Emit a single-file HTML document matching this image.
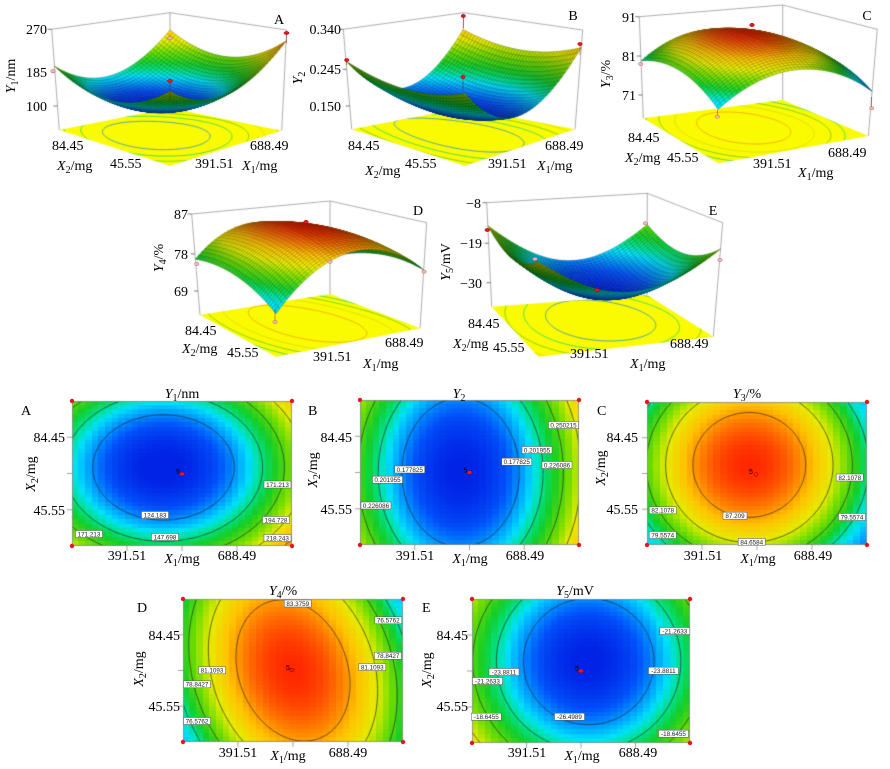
<!DOCTYPE html>
<html><head><meta charset="utf-8">
<style>
html,body{margin:0;padding:0;background:#fff;}
#wrap{position:relative;width:890px;height:769px;overflow:hidden;background:#fff;}
canvas,svg{position:absolute;left:0;top:0;}
svg text{font-family:"Liberation Serif",serif;font-size:14px;fill:#000;}
svg text.lb{font-family:"Liberation Sans",sans-serif;font-size:6.3px;fill:#222;}
svg text.cn{font-family:"Liberation Sans",sans-serif;font-size:7px;fill:#000;}
</style></head><body>
<div id="wrap">
<canvas id="c" width="890" height="769"></canvas>
<svg width="890" height="769" viewBox="0 0 890 769">
<!-- ===== 3D A ===== -->
<text x="47" y="34" text-anchor="end">270</text>
<text x="47" y="77" text-anchor="end">185</text>
<text x="47" y="111" text-anchor="end">100</text>
<text transform="translate(15,76) rotate(-90)" text-anchor="middle"><tspan font-style="italic">Y</tspan><tspan font-size="10" dy="3">1</tspan><tspan dy="-3">/nm</tspan></text>
<text x="279" y="24" text-anchor="middle">A</text>
<text x="52" y="150">84.45</text>
<text x="110" y="168">45.55</text>
<text x="57" y="170"><tspan font-style="italic">X</tspan><tspan font-size="10" dy="3">2</tspan><tspan dy="-3">/mg</tspan></text>
<text x="195" y="168">391.51</text>
<text x="250" y="150">688.49</text>
<text x="242" y="170"><tspan font-style="italic">X</tspan><tspan font-size="10" dy="3">1</tspan><tspan dy="-3">/mg</tspan></text>
<!-- ===== 3D B ===== -->
<text x="341" y="34" text-anchor="end">0.340</text>
<text x="341" y="74" text-anchor="end">0.245</text>
<text x="341" y="111" text-anchor="end">0.150</text>
<text transform="translate(302,78) rotate(-90)" text-anchor="middle"><tspan font-style="italic">Y</tspan><tspan font-size="10" dy="3">2</tspan></text>
<text x="573" y="20" text-anchor="middle">B</text>
<text x="348" y="150">84.45</text>
<text x="405" y="168">45.55</text>
<text x="365" y="175"><tspan font-style="italic">X</tspan><tspan font-size="10" dy="3">2</tspan><tspan dy="-3">/mg</tspan></text>
<text x="488" y="168">391.51</text>
<text x="545" y="150">688.49</text>
<text x="537" y="170"><tspan font-style="italic">X</tspan><tspan font-size="10" dy="3">1</tspan><tspan dy="-3">/mg</tspan></text>
<!-- ===== 3D C ===== -->
<text x="636" y="22" text-anchor="end">91</text>
<text x="636" y="61" text-anchor="end">81</text>
<text x="636" y="100" text-anchor="end">71</text>
<text transform="translate(610,74) rotate(-90)" text-anchor="middle"><tspan font-style="italic">Y</tspan><tspan font-size="10" dy="3">3</tspan><tspan dy="-3">/%</tspan></text>
<text x="867" y="20" text-anchor="middle">C</text>
<text x="628" y="142">84.45</text>
<text x="625" y="162"><tspan font-style="italic">X</tspan><tspan font-size="10" dy="3">2</tspan><tspan dy="-3">/mg</tspan></text>
<text x="667" y="162">45.55</text>
<text x="753" y="168">391.51</text>
<text x="828" y="157">688.49</text>
<text x="798" y="177"><tspan font-style="italic">X</tspan><tspan font-size="10" dy="3">1</tspan><tspan dy="-3">/mg</tspan></text>
<!-- ===== 3D D ===== -->
<text x="188" y="219" text-anchor="end">87</text>
<text x="188" y="259" text-anchor="end">78</text>
<text x="188" y="296" text-anchor="end">69</text>
<text transform="translate(163,258) rotate(-90)" text-anchor="middle"><tspan font-style="italic">Y</tspan><tspan font-size="10" dy="3">4</tspan><tspan dy="-3">/%</tspan></text>
<text x="418" y="215" text-anchor="middle">D</text>
<text x="185" y="335">84.45</text>
<text x="182" y="353"><tspan font-style="italic">X</tspan><tspan font-size="10" dy="3">2</tspan><tspan dy="-3">/mg</tspan></text>
<text x="227" y="357">45.55</text>
<text x="313" y="361">391.51</text>
<text x="385" y="347">688.49</text>
<text x="363" y="368"><tspan font-style="italic">X</tspan><tspan font-size="10" dy="3">1</tspan><tspan dy="-3">/mg</tspan></text>
<!-- ===== 3D E ===== -->
<text x="481" y="208" text-anchor="end">−8</text>
<text x="482" y="248" text-anchor="end">−19</text>
<text x="482" y="288" text-anchor="end">−30</text>
<text transform="translate(450,262) rotate(-90)" text-anchor="middle"><tspan font-style="italic">Y</tspan><tspan font-size="10" dy="3">5</tspan><tspan dy="-3">/mV</tspan></text>
<text x="713" y="215" text-anchor="middle">E</text>
<text x="468" y="328">84.45</text>
<text x="453" y="348"><tspan font-style="italic">X</tspan><tspan font-size="10" dy="3">2</tspan><tspan dy="-3">/mg</tspan></text>
<text x="493" y="352">45.55</text>
<text x="570" y="358">391.51</text>
<text x="670" y="348">688.49</text>
<text x="630" y="368"><tspan font-style="italic">X</tspan><tspan font-size="10" dy="3">1</tspan><tspan dy="-3">/mg</tspan></text>

<!-- 3D markers -->
<g stroke="#700" stroke-width="0.4">
<line x1="286.5" y1="33" x2="286.5" y2="43"/><line x1="170" y1="81" x2="170" y2="100"/>
<line x1="463.3" y1="16" x2="463.3" y2="28"/><line x1="463" y1="77" x2="463" y2="90"/><line x1="580" y1="44" x2="580" y2="55"/><line x1="346.7" y1="60" x2="346.7" y2="65"/>
<line x1="717.3" y1="110" x2="717.3" y2="116.7"/><line x1="871.7" y1="97" x2="871.7" y2="108.3"/>
<line x1="275" y1="310" x2="275" y2="322"/>
</g>
<g fill="#e8161a" stroke="#800" stroke-width="0.4">
<ellipse cx="286.5" cy="33" rx="2.6" ry="1.6"/><ellipse cx="170" cy="81" rx="2.6" ry="1.6"/>
<ellipse cx="463.3" cy="16" rx="2.2" ry="1.6"/><ellipse cx="463" cy="77" rx="2.2" ry="1.6"/><ellipse cx="580" cy="44" rx="2.2" ry="1.6"/><ellipse cx="346.7" cy="60" rx="2.2" ry="1.6"/>
<ellipse cx="752" cy="25" rx="2.4" ry="1.8"/>
<ellipse cx="306" cy="222" rx="2.4" ry="1.8"/>
<ellipse cx="487.3" cy="230" rx="2.4" ry="1.6"/><ellipse cx="597" cy="290" rx="2.4" ry="1.6"/>
</g>
<g fill="#f4b4b4" stroke="#a55" stroke-width="0.4">
<ellipse cx="53" cy="71" rx="2.2" ry="1.6"/><ellipse cx="170" cy="38" rx="2.2" ry="1.6"/>
<ellipse cx="640.7" cy="64" rx="2.2" ry="1.6"/><ellipse cx="717.3" cy="116.7" rx="2.2" ry="1.6"/><ellipse cx="871.7" cy="108.3" rx="2.2" ry="1.6"/>
<ellipse cx="196.7" cy="264" rx="2.2" ry="1.6"/><ellipse cx="330" cy="261.7" rx="2.2" ry="1.6"/><ellipse cx="424" cy="271.7" rx="2.2" ry="1.6"/><ellipse cx="275" cy="322" rx="2.2" ry="1.6"/>
<ellipse cx="535" cy="259" rx="2.2" ry="1.6"/><ellipse cx="645.3" cy="223.3" rx="2.2" ry="1.6"/><ellipse cx="720" cy="260" rx="2.2" ry="1.6"/>
</g>

<!-- ===== Contour A ===== -->
<text x="182" y="398" text-anchor="middle"><tspan font-style="italic">Y</tspan><tspan font-size="10" dy="3">1</tspan><tspan dy="-3">/nm</tspan></text>
<text x="21" y="415">A</text>
<text x="65" y="442" text-anchor="end">84.45</text>
<text x="65" y="515" text-anchor="end">45.55</text>
<text transform="translate(35,474) rotate(-90)" text-anchor="middle"><tspan font-style="italic">X</tspan><tspan font-size="10" dy="3">2</tspan><tspan dy="-3">/mg</tspan></text>
<text x="127" y="560" text-anchor="middle">391.51</text>
<text x="237" y="560" text-anchor="middle">688.49</text>
<text x="182" y="563" text-anchor="middle"><tspan font-style="italic">X</tspan><tspan font-size="10" dy="3">1</tspan><tspan dy="-3">/mg</tspan></text>
<!-- ===== Contour B ===== -->
<text x="459" y="398" text-anchor="middle"><tspan font-style="italic">Y</tspan><tspan font-size="10" dy="3">2</tspan></text>
<text x="308" y="415">B</text>
<text x="352" y="442" text-anchor="end">84.45</text>
<text x="352" y="514" text-anchor="end">45.55</text>
<text transform="translate(317,470) rotate(-90)" text-anchor="middle"><tspan font-style="italic">X</tspan><tspan font-size="10" dy="3">2</tspan><tspan dy="-3">/mg</tspan></text>
<text x="415" y="560" text-anchor="middle">391.51</text>
<text x="525" y="560" text-anchor="middle">688.49</text>
<text x="470" y="563" text-anchor="middle"><tspan font-style="italic">X</tspan><tspan font-size="10" dy="3">1</tspan><tspan dy="-3">/mg</tspan></text>
<!-- ===== Contour C ===== -->
<text x="747" y="398" text-anchor="middle"><tspan font-style="italic">Y</tspan><tspan font-size="10" dy="3">3</tspan><tspan dy="-3">/%</tspan></text>
<text x="597" y="415">C</text>
<text x="638" y="442" text-anchor="end">84.45</text>
<text x="638" y="514" text-anchor="end">45.55</text>
<text transform="translate(605,468) rotate(-90)" text-anchor="middle"><tspan font-style="italic">X</tspan><tspan font-size="10" dy="3">2</tspan><tspan dy="-3">/mg</tspan></text>
<text x="703" y="560" text-anchor="middle">391.51</text>
<text x="813" y="560" text-anchor="middle">688.49</text>
<text x="758" y="563" text-anchor="middle"><tspan font-style="italic">X</tspan><tspan font-size="10" dy="3">1</tspan><tspan dy="-3">/mg</tspan></text>
<!-- ===== Contour D ===== -->
<text x="283" y="595" text-anchor="middle"><tspan font-style="italic">Y</tspan><tspan font-size="10" dy="3">4</tspan><tspan dy="-3">/%</tspan></text>
<text x="137" y="612">D</text>
<text x="180" y="640" text-anchor="end">84.45</text>
<text x="180" y="711" text-anchor="end">45.55</text>
<text transform="translate(143,669) rotate(-90)" text-anchor="middle"><tspan font-style="italic">X</tspan><tspan font-size="10" dy="3">2</tspan><tspan dy="-3">/mg</tspan></text>
<text x="238" y="757" text-anchor="middle">391.51</text>
<text x="348" y="757" text-anchor="middle">688.49</text>
<text x="288" y="760" text-anchor="middle"><tspan font-style="italic">X</tspan><tspan font-size="10" dy="3">1</tspan><tspan dy="-3">/mg</tspan></text>
<!-- ===== Contour E ===== -->
<text x="575" y="595" text-anchor="middle"><tspan font-style="italic">Y</tspan><tspan font-size="10" dy="3">5</tspan><tspan dy="-3">/mV</tspan></text>
<text x="422" y="612">E</text>
<text x="468" y="640" text-anchor="end">84.45</text>
<text x="468" y="711" text-anchor="end">45.55</text>
<text transform="translate(431,670) rotate(-90)" text-anchor="middle"><tspan font-style="italic">X</tspan><tspan font-size="10" dy="3">2</tspan><tspan dy="-3">/mg</tspan></text>
<text x="527" y="757" text-anchor="middle">391.51</text>
<text x="638" y="757" text-anchor="middle">688.49</text>
<text x="582" y="760" text-anchor="middle"><tspan font-style="italic">X</tspan><tspan font-size="10" dy="3">1</tspan><tspan dy="-3">/mg</tspan></text>

<!-- contour labels -->
<g fill="#fff" stroke="#555" stroke-width="0.5">
<rect x="141.5" y="511.5" width="27" height="7"/><rect x="151.5" y="533.5" width="27" height="7"/><rect x="75.5" y="530.5" width="27" height="7"/><rect x="264" y="481" width="27" height="7"/><rect x="262.5" y="516.5" width="27" height="7"/><rect x="264" y="534.5" width="27" height="7"/>
<rect x="548.5" y="421.5" width="30" height="7"/><rect x="522" y="446.5" width="30" height="7"/><rect x="501.7" y="458.2" width="30" height="7"/><rect x="542" y="461.5" width="30" height="7"/><rect x="394.7" y="466" width="30" height="7"/><rect x="372.5" y="476.2" width="30" height="7"/><rect x="361" y="502" width="30" height="7"/>
<rect x="836.2" y="474" width="27" height="7"/><rect x="838.5" y="513.5" width="27" height="7"/><rect x="723" y="512.2" width="24" height="7"/><rect x="738.2" y="538.5" width="27" height="7"/><rect x="649.2" y="506.8" width="27" height="7"/><rect x="649.2" y="531.5" width="27" height="7"/>
<rect x="284.3" y="600" width="27" height="7"/><rect x="374.8" y="616.8" width="27" height="7"/><rect x="374.5" y="652.3" width="27" height="7"/><rect x="358.8" y="663.5" width="27" height="7"/><rect x="198.5" y="666.8" width="27" height="7"/><rect x="183.5" y="680.8" width="27" height="7"/><rect x="183.5" y="717.5" width="27" height="7"/>
<rect x="659.8" y="627.5" width="30" height="7"/><rect x="648.5" y="667.2" width="30" height="7"/><rect x="489" y="668.5" width="30" height="7"/><rect x="472.5" y="677.5" width="30" height="7"/><rect x="554.5" y="713.2" width="30" height="7"/><rect x="471.3" y="713.2" width="30" height="7"/><rect x="658.5" y="730.2" width="30" height="7"/>
</g>
<g text-anchor="middle">
<text class="lb" x="155" y="517.3">124.183</text><text class="lb" x="165" y="539.3">147.698</text><text class="lb" x="89" y="536.3">171.213</text><text class="lb" x="277.5" y="486.8">171.213</text><text class="lb" x="276" y="522.3">194.728</text><text class="lb" x="277.5" y="540.3">218.243</text>
<text class="lb" x="563.5" y="427.3">0.250215</text><text class="lb" x="537" y="452.3">0.201955</text><text class="lb" x="516.7" y="464">0.177825</text><text class="lb" x="557" y="467.3">0.226086</text><text class="lb" x="409.7" y="471.8">0.177825</text><text class="lb" x="387.5" y="482">0.201955</text><text class="lb" x="376" y="507.8">0.226086</text>
<text class="lb" x="849.7" y="479.8">82.1078</text><text class="lb" x="852" y="519.3">79.5574</text><text class="lb" x="735" y="518">87.209</text><text class="lb" x="751.7" y="544.3">84.6584</text><text class="lb" x="662.7" y="512.6">82.1078</text><text class="lb" x="662.7" y="537.3">79.5574</text>
<text class="lb" x="297.8" y="605.8">83.3759</text><text class="lb" x="388.3" y="622.6">76.5762</text><text class="lb" x="388" y="658.1">78.8427</text><text class="lb" x="372.3" y="669.3">81.1093</text><text class="lb" x="212" y="672.6">81.1093</text><text class="lb" x="197" y="686.6">78.8427</text><text class="lb" x="197" y="723.3">76.5762</text>
<text class="lb" x="674.8" y="633.3">-21.2633</text><text class="lb" x="663.5" y="673">-23.8811</text><text class="lb" x="504" y="674.3">-23.8811</text><text class="lb" x="487.5" y="683.3">-21.2633</text><text class="lb" x="569.5" y="719">-26.4989</text><text class="lb" x="486.3" y="719">-18.6455</text><text class="lb" x="673.5" y="736">-18.6455</text>
</g>
<!-- center markers -->
<g fill="#e8161a" stroke="#900" stroke-width="0.4">
<ellipse cx="182" cy="474" rx="2.6" ry="1.8"/><ellipse cx="469.5" cy="472.5" rx="2.6" ry="1.8"/><ellipse cx="292" cy="670" rx="2.6" ry="1.8"/><ellipse cx="581" cy="671" rx="2.6" ry="1.8"/>
</g>
<circle cx="756" cy="474.5" r="1.9" fill="none" stroke="#c00" stroke-width="0.8"/>
<text class="cn" x="176" y="474">5</text><text class="cn" x="463.5" y="472.5">5</text><text class="cn" x="749" y="474">5</text><text class="cn" x="286" y="670">5</text><text class="cn" x="575" y="671">5</text>
<!-- corner dots -->
<g fill="#e8161a">
<circle cx="72" cy="401" r="2.2"/><circle cx="292" cy="401" r="2.2"/><circle cx="72" cy="546" r="2.2"/><circle cx="292" cy="546" r="2.2"/>
<circle cx="360" cy="400" r="2.2"/><circle cx="579" cy="400" r="2.2"/><circle cx="360" cy="545" r="2.2"/><circle cx="579" cy="545" r="2.2"/>
<circle cx="647" cy="402" r="2.2"/><circle cx="867" cy="402" r="2.2"/><circle cx="647" cy="545" r="2.2"/><circle cx="867" cy="545" r="2.2"/>
<circle cx="183" cy="599" r="2.2"/><circle cx="403" cy="599" r="2.2"/><circle cx="183" cy="742" r="2.2"/><circle cx="403" cy="742" r="2.2"/>
<circle cx="472" cy="599" r="2.2"/><circle cx="690" cy="599" r="2.2"/><circle cx="472" cy="743" r="2.2"/><circle cx="690" cy="743" r="2.2"/>
</g>
</svg>
</div>
<script>
(function(){
var cv=document.getElementById('c'),ctx=cv.getContext('2d');
var stops=[[0,[0,35,230]],[0.1,[0,80,250]],[0.19,[0,160,255]],[0.26,[0,225,250]],[0.33,[0,225,140]],[0.42,[20,205,40]],[0.55,[110,220,0]],[0.68,[230,235,0]],[0.8,[255,195,0]],[0.9,[255,120,0]],[1,[255,40,0]]];
function cmap(t){if(!(t>0))t=0;if(t>1)t=1;for(var i=1;i<stops.length;i++){if(t<=stops[i][0]){var a=stops[i-1],b=stops[i],f=(t-a[0])/(b[0]-a[0]);return [a[1][0]+(b[1][0]-a[1][0])*f,a[1][1]+(b[1][1]-a[1][1])*f,a[1][2]+(b[1][2]-a[1][2])*f];}}return stops[stops.length-1][1];}
function rgb(c,m){if(m===undefined)m=1;return 'rgb('+Math.round(Math.min(255,c[0]*m))+','+Math.round(Math.min(255,c[1]*m))+','+Math.round(Math.min(255,c[2]*m))+')';}
function soft(s,k){return s/(1+k*s);}
function comp(t){return t<0.3?0.3-(0.3-t)*0.5:t;}
var plots=[
{type:'min',s:function(u,v){return 0.46*u*u+0.36*v*v+0.155*u-0.06*v;},t:function(u,v){return soft(this.s(u,v),0.15);},h:function(u,v){return 0.27+0.6*this.s(u,v);},levels:[0.17,0.34,0.5,0.67,0.84],box:[72,401,292,546],fl:[[59.3,130],[170,165.7],[281.7,130.7],[170,108]],tp:[[51.7,29.3],[170,60],[286.7,30],[170,12.7]],zt:[29.3,72,106]},
{type:'min',s:function(u,v){return 0.62*u*u+0.1*u+0.17*v*v;},t:function(u,v){return soft(this.s(u,v),0.15);},h:function(u,v){return 0.2+0.7*this.s(u,v);},levels:[0.17,0.33,0.5,0.67],box:[360,400,579,545],fl:[[351.7,129.3],[465,165.7],[575,129.3],[463,108]],tp:[[343.3,29.3],[465,60],[582.7,30],[463.3,12.7]],zt:[29.3,69.3,106]},
{type:'max',s:function(u,v){return 0.57*(u+0.07)*(u+0.07)+0.28*(v-0.12)*(v-0.12);},t:function(u,v){return comp(1-this.s(u,v));},h:function(u,v){return 0.92-0.5*this.s(u,v);},levels:[0.85,0.67,0.5,0.33],box:[647,402,867,545],fl:[[643.3,118.3],[718.3,163.3],[868.3,136],[782.7,100]],tp:[[639.3,16.7],[718,55],[877.3,29.3],[782.7,5]],zt:[16.7,56,95]},
{type:'max',s:function(u,v){return 0.58*u*u+0.16*v*v+0.12*u*v;},t:function(u,v){return comp(1-this.s(u,v));},h:function(u,v){return 0.95-0.64*this.s(u,v);},levels:[0.85,0.67,0.5,0.33],box:[183,599,403,742],fl:[[200,315],[276,356.7],[420,328.3],[330,294]],tp:[[191.7,214],[276,249],[426.7,222.7],[330,201]],zt:[214,254,291]},
{type:'min',s:function(u,v){return 0.85*(0.6*(u-0.02)*(u-0.02)+0.28*(v-0.06)*(v-0.06)-0.06*u-0.04*v);},t:function(u,v){return soft(this.s(u,v),0.25);},h:function(u,v){return 0.25+0.83*this.t(u,v);},levels:[0.17,0.33,0.5,0.67],box:[472,599,690,743],fl:[[491.7,306.7],[538.3,356.7],[713.3,336.7],[647,295]],tp:[[486.7,202.7],[538,245],[722.7,222.7],[647.3,193.3]],zt:[202.7,243.3,282.7]}
];
function bl(Q,u,v){var a=(u+1)/2,b=(v+1)/2;var w0=(1-a)*b,w1=(1-a)*(1-b),w2=a*(1-b),w3=a*b;return [w0*Q[0][0]+w1*Q[1][0]+w2*Q[2][0]+w3*Q[3][0],w0*Q[0][1]+w1*Q[1][1]+w2*Q[2][1]+w3*Q[3][1]];}
function findCenter(p){var best=null,bu=0,bv=0;for(var u=-1.2;u<=1.2;u+=0.02)for(var v=-1.2;v<=1.2;v+=0.02){var t=p.t(u,v);var val=p.type=='min'?t:-t;if(best===null||val<best){best=val;bu=u;bv=v;}}return [bu,bv];}
function contour(p,L,c){var pts=[],n=300;for(var k=0;k<=n;k++){var th=2*Math.PI*k/n,dx=Math.cos(th),dy=Math.sin(th);var f=function(r){return p.t(c[0]+r*dx,c[1]+r*dy)-L;};var lo=0,hi=4,f0=f(lo),f1=f(hi);if(f0*f1>0){pts.push(null);continue;}for(var it=0;it<30;it++){var m=(lo+hi)/2,fm=f(m);if(fm*f0>0)lo=m;else hi=m;}var r=(lo+hi)/2;pts.push([c[0]+r*dx,c[1]+r*dy]);}return pts;}
function strokePts(pts,map){ctx.beginPath();var pen=false;for(var i=0;i<pts.length;i++){var q=pts[i];if(!q){pen=false;continue;}var s=map(q[0],q[1]);if(!pen){ctx.moveTo(s[0],s[1]);pen=true;}else ctx.lineTo(s[0],s[1]);}ctx.stroke();}
function seg(a,b){ctx.beginPath();ctx.moveTo(a[0],a[1]);ctx.lineTo(b[0],b[1]);ctx.stroke();}

function drawContour(p){
 var x0=p.box[0],y0=p.box[1],x1=p.box[2],y1=p.box[3],W=x1-x0,H=y1-y0,N=33;
 for(var i=0;i<N;i++)for(var j=0;j<N;j++){
  var u=-1+2*(i+0.5)/N,v=1-2*(j+0.5)/N;
  ctx.fillStyle=rgb(cmap(p.t(u,v)));
  var xa=Math.floor(x0+W*i/N),xb=Math.ceil(x0+W*(i+1)/N),ya=Math.floor(y0+H*j/N),yb=Math.ceil(y0+H*(j+1)/N);
  ctx.fillRect(xa,ya,xb-xa,yb-ya);
 }
 var c=findCenter(p);
 ctx.save();ctx.beginPath();ctx.rect(x0,y0,W,H);ctx.clip();
 ctx.strokeStyle='rgba(35,35,35,0.85)';ctx.lineWidth=0.8;
 for(var k=0;k<p.levels.length;k++){strokePts(contour(p,p.levels[k],c),function(u,v){return [x0+(u+1)/2*W,y0+(1-v)/2*H];});}
 ctx.restore();
 ctx.strokeStyle='#8a8a8a';ctx.lineWidth=0.8;ctx.strokeRect(x0+0.5,y0+0.5,W-1,H-1);
 var ys=[y0+H*0.25,y0+H*0.5,y0+H*0.75];for(var a=0;a<3;a++)seg([x0-5,ys[a]],[x0,ys[a]]);
 var xs=[x0+W*0.25,x0+W*0.5,x0+W*0.75];for(var b=0;b<3;b++)seg([xs[b],y1],[xs[b],y1+5]);
}

function draw3D(p){
 var proj=function(u,v,h){var f=bl(p.fl,u,v),t=bl(p.tp,u,v);return [f[0]+(t[0]-f[0])*h,f[1]+(t[1]-f[1])*h];};
 ctx.lineWidth=0.8;ctx.strokeStyle='#9a9a9a';
 seg(p.fl[0],p.tp[0]);seg(p.fl[3],p.tp[3]);seg(p.fl[2],p.tp[2]);seg(p.tp[0],p.tp[3]);seg(p.tp[3],p.tp[2]);
 ctx.strokeStyle='#555';
 var A=p.fl[0],B=p.tp[0];
 for(var z=0;z<p.zt.length;z++){var y=p.zt[z];var f=(y-A[1])/(B[1]-A[1]);var x=A[0]+(B[0]-A[0])*f;seg([x-4,y],[x,y]);}
 ctx.fillStyle='rgb(250,250,0)';ctx.beginPath();
 for(var q=0;q<4;q++){if(q)ctx.lineTo(p.fl[q][0],p.fl[q][1]);else ctx.moveTo(p.fl[q][0],p.fl[q][1]);}
 ctx.closePath();ctx.fill();
 ctx.save();ctx.clip();
 var c=findCenter(p);ctx.lineWidth=0.7;
 for(var k=0;k<p.levels.length;k++){var col=cmap(p.levels[k]);ctx.strokeStyle=rgb(col,0.95);strokePts(contour(p,p.levels[k],c),function(u,v){return proj(u,v,0);});}
 ctx.restore();
 var N=40,quads=[];
 var lx=-0.45,ly=-0.55,lz=0.75,ll=Math.sqrt(lx*lx+ly*ly+lz*lz);
 for(var i=0;i<N;i++)for(var j=0;j<N;j++){
  var u0=-1+2*i/N,u1=-1+2*(i+1)/N,v0=-1+2*j/N,v1=-1+2*(j+1)/N,uc=(u0+u1)/2,vc=(v0+v1)/2;
  var pts=[[u0,v0],[u1,v0],[u1,v1],[u0,v1]].map(function(g){return proj(g[0],g[1],p.h(g[0],g[1]));});
  var d=bl(p.fl,uc,vc)[1];
  var e=0.01,Z=1.3;
  var dhu=(p.h(uc+e,vc)-p.h(uc-e,vc))/(2*e)*Z,dhv=(p.h(uc,vc+e)-p.h(uc,vc-e))/(2*e)*Z;
  var nx=-dhu,ny=-dhv,nz=1,nl=Math.sqrt(nx*nx+ny*ny+nz*nz);
  var dot=(nx*lx+ny*ly+nz*lz)/(nl*ll);
  var sh=0.55+0.5*Math.max(0,dot);
  quads.push([d,pts,cmap(p.t(uc,vc)),sh]);
 }
 quads.sort(function(a,b){return a[0]-b[0];});
 ctx.lineWidth=0.5;
 for(var m=0;m<quads.length;m++){var Q=quads[m];ctx.beginPath();for(var r=0;r<4;r++){if(r)ctx.lineTo(Q[1][r][0],Q[1][r][1]);else ctx.moveTo(Q[1][r][0],Q[1][r][1]);}ctx.closePath();ctx.fillStyle=rgb(Q[2],Q[3]);ctx.fill();ctx.strokeStyle=rgb(Q[2],Q[3]*0.62);ctx.stroke();}
}
ctx.fillStyle='#fff';ctx.fillRect(0,0,890,769);
for(var i=0;i<plots.length;i++){draw3D(plots[i]);drawContour(plots[i]);}
})();
</script>
</body></html>
